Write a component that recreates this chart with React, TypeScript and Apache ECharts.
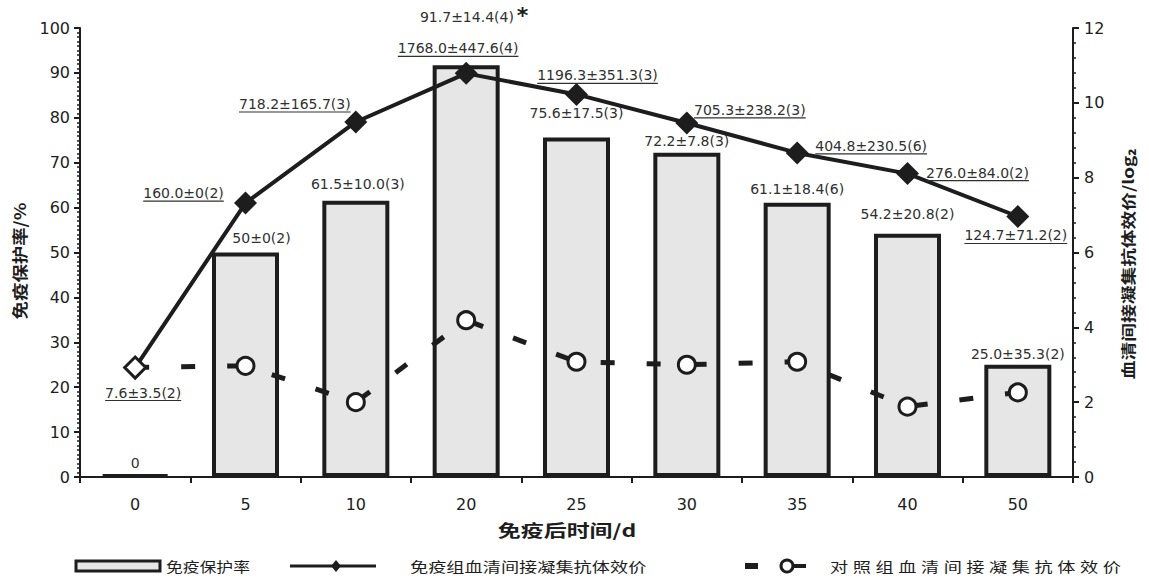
import React, { useEffect, useRef } from 'react';
import * as echarts from 'echarts';

// Days after immunization
const categories = ['0', '5', '10', '20', '25', '30', '35', '40', '50'];

// Immune protection rate (%): mean, SD, n
const protectionMean = ['0', '50', '61.5', '91.7', '75.6', '72.2', '61.1', '54.2', '25.0'];
const protectionSD = ['', '0', '10.0', '14.4', '17.5', '7.8', '18.4', '20.8', '35.3'];
const protectionN = [0, 2, 3, 4, 3, 3, 6, 2, 2];
const protectionStar = [false, false, false, true, false, false, false, false, false];

// Immunized group: indirect haemagglutination titre (mean, SD, n), plotted as log2
const titerMean = ['7.6', '160.0', '718.2', '1768.0', '1196.3', '705.3', '404.8', '276.0', '124.7'];
const titerSD = ['3.5', '0', '165.7', '447.6', '351.3', '238.2', '230.5', '84.0', '71.2'];
const titerN = [2, 2, 3, 4, 3, 3, 6, 2, 2];

// Control group titre (log2)
const controlLog2 = [2.93, 2.97, 2.0, 4.19, 3.08, 3.0, 3.08, 1.88, 2.26];

// Axis ticks
const leftTicks = { min: 0, max: 100, step: 10 };
const rightTicks = { min: 0, max: 12, step: 2 };

// Label placement (layout only)
const barLabelGap = [4, 8, 10, 35, 18, 5, 7, 13, 4];
const barLabelShift = [0, 16, 2, 8, 0, 0, 0, 0, 0];
const titerLabelOffset: [number, number][] = [
  [8, 25], [-62, -10], [-61, -18], [-8, -25], [21, -19], [63, -13], [74, -7], [70, -1], [-2, 19],
];

const INK = '#1d1d1d';
const LABEL_INK = '#303030';
const NUM_FONT = "'DejaVu Sans', 'Liberation Sans', sans-serif";
const CJK_FONT = "'Noto Sans CJK SC', 'Noto Sans', sans-serif";

let measureCtx: CanvasRenderingContext2D | null = null;
function textWidth(text: string, font: string): number {
  if (!measureCtx) measureCtx = document.createElement('canvas').getContext('2d');
  if (!measureCtx) return text.length * 8;
  measureCtx.font = font;
  return measureCtx.measureText(text).width;
}

function cjkText(text: string, x: number, y: number, size: number, opts: any = {}) {
  return {
    type: 'text',
    x,
    y,
    rotation: opts.rotation || 0,
    scaleX: opts.stretch || 1,
    silent: true,
    style: {
      text,
      fill: INK,
      fontSize: size,
      fontFamily: CJK_FONT,
      fontWeight: opts.bold ? 'bold' : 'normal',
      align: opts.align || 'left',
      verticalAlign: 'middle',
      textAlign: opts.align || 'left',
      textVerticalAlign: 'middle',
    },
  };
}

export default function App() {
  const ref = useRef<HTMLDivElement>(null);

  useEffect(() => {
    if (!ref.current) return;
    const chart = echarts.init(ref.current, undefined, { renderer: 'svg' });

    const barValues = protectionMean.map(Number);
    const barLabels = protectionMean.map((m, i) =>
      protectionSD[i] === '' ? m : `${m}±${protectionSD[i]}(${protectionN[i]})`
    );
    const titerLog2 = titerMean.map((m) => Math.log2(Number(m)));
    const titerLabels = titerMean.map((m, i) => `${m}±${titerSD[i]}(${titerN[i]})`);

    const labelFontSize = 14;
    const labelFont = `${labelFontSize}px ${NUM_FONT}`;

    const axisLine = { show: true, lineStyle: { color: INK, width: 2 } };
    const axisLabel = { color: INK, fontSize: 16, fontFamily: NUM_FONT };

    const legendY = 566;
    const spaced = (s: string) => s.split('').join('\u2005');

    const option: any = {
      animation: false,
      backgroundColor: '#ffffff',
      grid: { left: 80, right: 76, top: 28, bottom: 102 },
      xAxis: {
        type: 'category',
        data: categories,
        axisLine,
        axisTick: { show: true, interval: 0, length: 6, lineStyle: { color: INK, width: 2 } },
        axisLabel: { ...axisLabel, margin: 19, interval: 0 },
      },
      yAxis: [
        {
          type: 'value',
          min: leftTicks.min,
          max: leftTicks.max,
          interval: leftTicks.step,
          axisLine,
          axisTick: { show: true, length: 6, lineStyle: { color: INK, width: 2 } },
          minorTick: { show: true, splitNumber: 10, length: 3, lineStyle: { color: INK, width: 1.5 } },
          splitLine: { show: false },
          axisLabel: { ...axisLabel, margin: 10 },
        },
        {
          type: 'value',
          position: 'right',
          min: rightTicks.min,
          max: rightTicks.max,
          interval: rightTicks.step,
          axisLine,
          axisTick: { show: true, length: 6, lineStyle: { color: INK, width: 2 } },
          minorTick: { show: true, splitNumber: 5, length: 3, lineStyle: { color: INK, width: 1.5 } },
          splitLine: { show: false },
          axisLabel: { ...axisLabel, margin: 11 },
        },
      ],
      series: [
        {
          type: 'bar',
          name: '免疫保护率',
          yAxisIndex: 0,
          barWidth: 67,
          barMinHeight: 2,
          z: 2,
          itemStyle: { color: '#e6e6e6', borderColor: INK, borderWidth: 4 },
          data: barValues.map((v, i) => ({
            value: v,
            label: { distance: barLabelGap[i], offset: [barLabelShift[i], 0] },
          })),
          label: {
            show: true,
            position: 'top',
            color: LABEL_INK,
            fontSize: labelFontSize,
            fontFamily: NUM_FONT,
            formatter: (p: any) =>
              protectionStar[p.dataIndex]
                ? `{t|${barLabels[p.dataIndex]}}{s|*}`
                : barLabels[p.dataIndex],
            rich: {
              t: { color: LABEL_INK, fontSize: labelFontSize, fontFamily: NUM_FONT },
              s: {
                color: INK,
                fontSize: 22,
                fontWeight: 'bold',
                fontFamily: NUM_FONT,
                padding: [0, 0, 4, 3],
              },
            },
          },
        },
        {
          type: 'line',
          name: '对照组血清间接凝集抗体效价',
          yAxisIndex: 1,
          z: 3,
          symbol: 'circle',
          symbolSize: 17,
          itemStyle: { color: '#ffffff', borderColor: INK, borderWidth: 3 },
          lineStyle: { color: INK, width: 5, type: [14, 32] },
          data: controlLog2.map((v, i) => (i === 0 ? { value: v, symbol: 'none' } : v)),
        },
        {
          type: 'line',
          name: '免疫组血清间接凝集抗体效价',
          yAxisIndex: 1,
          z: 4,
          symbol: 'diamond',
          symbolSize: 23,
          itemStyle: { color: INK, borderWidth: 0 },
          lineStyle: { color: INK, width: 4 },
          data: titerLog2.map((v, i) =>
            i === 0
              ? { value: v, symbolSize: 21, itemStyle: { color: '#ffffff', borderColor: INK, borderWidth: 3 } }
              : v
          ),
        },
        {
          type: 'custom',
          name: 'titer-labels',
          yAxisIndex: 1,
          z: 6,
          silent: true,
          data: titerLog2.map((v, i) => [i, v]),
          renderItem: (params: any, api: any) => {
            const i = params.dataIndex;
            const pt = api.coord([api.value(0), api.value(1)]);
            const cx = pt[0] + titerLabelOffset[i][0];
            const cy = pt[1] + titerLabelOffset[i][1];
            const w = textWidth(titerLabels[i], labelFont);
            return {
              type: 'group',
              children: [
                {
                  type: 'text',
                  x: cx,
                  y: cy,
                  style: {
                    text: titerLabels[i],
                    fill: LABEL_INK,
                    fontSize: labelFontSize,
                    fontFamily: NUM_FONT,
                    align: 'center',
                    verticalAlign: 'middle',
                    textAlign: 'center',
                    textVerticalAlign: 'middle',
                  },
                },
                {
                  type: 'line',
                  shape: { x1: cx - w / 2, y1: cy + 8, x2: cx + w / 2, y2: cy + 8 },
                  style: { stroke: LABEL_INK, lineWidth: 1.2 },
                },
              ],
            };
          },
        },
      ],
      graphic: [
        // axis titles
        cjkText('免疫后时间/d', 567, 530, 17, { align: 'center', bold: true, stretch: 1.35 }),
        cjkText('免疫保护率/%', 19, 261, 16, { align: 'center', bold: true, rotation: Math.PI / 2, stretch: 1.15 }),
        cjkText('血清间接凝集抗体效价/log₂', 1127, 264, 15, { align: 'center', bold: true, rotation: Math.PI / 2, stretch: 1.25 }),
        // legend: protection rate
        {
          type: 'rect',
          silent: true,
          shape: { x: 76, y: legendY - 5, width: 84, height: 10 },
          style: { fill: '#e6e6e6', stroke: INK, lineWidth: 3 },
        },
        cjkText('免疫保护率', 166, legendY, 14, { stretch: 1.2 }),
        // legend: immunized group titre
        {
          type: 'line',
          silent: true,
          shape: { x1: 290, y1: legendY, x2: 376, y2: legendY },
          style: { stroke: INK, lineWidth: 3 },
        },
        {
          type: 'polygon',
          silent: true,
          shape: { points: [[336, legendY - 6], [341, legendY], [336, legendY + 6], [331, legendY]] },
          style: { fill: INK },
        },
        cjkText('免疫组血清间接凝集抗体效价', 410, legendY, 14, { stretch: 1.3 }),
        // legend: control group titre
        {
          type: 'rect',
          silent: true,
          shape: { x: 745, y: legendY - 3, width: 13, height: 6 },
          style: { fill: INK },
        },
        {
          type: 'line',
          silent: true,
          shape: { x1: 790, y1: legendY, x2: 806, y2: legendY },
          style: { stroke: INK, lineWidth: 4 },
        },
        {
          type: 'circle',
          silent: true,
          shape: { cx: 787, cy: legendY, r: 6 },
          style: { fill: '#ffffff', stroke: INK, lineWidth: 3 },
        },
        cjkText(spaced('对照组血清间接凝集抗体效价'), 830, legendY, 14, { stretch: 1.3 }),
      ],
    };

    chart.setOption(option);
    return () => chart.dispose();
  }, []);

  return (
    <div
      ref={ref}
      style={{ position: 'fixed', left: 0, top: 0, width: 1149, height: 579, background: '#ffffff' }}
    />
  );
}
